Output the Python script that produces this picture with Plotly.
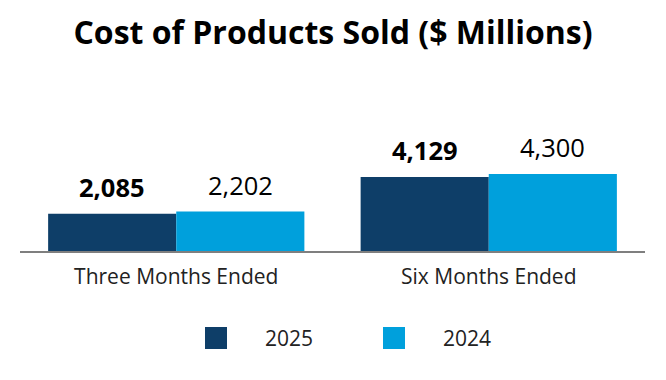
import plotly.graph_objects as go

categories = ["Three Months Ended", "Six Months Ended"]
series_names = ["2025", "2024"]
values_2025 = [2085, 4129]
values_2024 = [2202, 4300]
labels_2025 = ["2,085", "4,129"]
labels_2024 = ["2,202", "4,300"]
colors = ["#0e3e68", "#00a0dc"]

W, H = 666, 380
OFF = 8  # page body margin
ML, MR, MT, MB = 12, 29, 62, 137
BARGAP = 0.18
FONT = "Open Sans"

fig = go.Figure()
for name, vals, col in zip(series_names, [values_2025, values_2024], colors):
    fig.add_trace(go.Bar(x=categories, y=vals, name=name, marker=dict(color=col, line=dict(width=0)),
                         showlegend=False))

# data labels as annotations above the bars
annotations = []
half = (1 - BARGAP) / 2
offsets = [-half / 2, half / 2]
for si, (labels, vals, bold) in enumerate([(labels_2025, values_2025, True), (labels_2024, values_2024, False)]):
    for ci, (lab, v) in enumerate(zip(labels, vals)):
        annotations.append(dict(
            x=ci + offsets[si], y=v, xref="x", yref="y", text=f"<b>{lab}</b>" if bold else lab,
            showarrow=False, yanchor="bottom", yshift=8,
            font=dict(family=FONT, size=25.5, color="#000000")))

# custom legend (positions given in page pixels)
pw = W - ML - MR
ph = H - MT - MB
def px_to_paper_x(px):
    return (px - OFF - ML) / pw
def px_to_paper_y(py):
    return (H - MB - (py - OFF)) / ph

shapes = []
legend_items = [(205, 263), (383, 441)]
for (sx, tx), name, col in zip(legend_items, series_names, colors):
    shapes.append(dict(type="rect", xref="paper", yref="paper",
                       x0=px_to_paper_x(sx), x1=px_to_paper_x(sx + 22),
                       y0=px_to_paper_y(349), y1=px_to_paper_y(327),
                       fillcolor=col, line=dict(width=0)))
    annotations.append(dict(x=px_to_paper_x(tx), y=px_to_paper_y(338), xref="paper", yref="paper",
                            text=name, showarrow=False, xanchor="left", yanchor="middle",
                            font=dict(family=FONT, size=21, color="#222222")))

fig.update_layout(
    width=W, height=H,
    margin=dict(l=ML, r=MR, t=MT, b=MB),
    paper_bgcolor="white", plot_bgcolor="white",
    barmode="group", bargap=BARGAP, bargroupgap=0,
    title=dict(text="<b>Cost of Products Sold ($ Millions)</b>", x=(333 - OFF) / W, xanchor="center",
               y=1 - (33 - OFF) / H, yanchor="middle", font=dict(family=FONT, size=32, color="#000000")),
    xaxis=dict(showline=True, linecolor="#7f7f7f", linewidth=2, ticks="", showgrid=False,
               tickfont=dict(family=FONT, size=21, color="#222222"), ticklabelstandoff=6),
    yaxis=dict(range=[0, 10100], visible=False, showgrid=False, zeroline=False),
    annotations=annotations, shapes=shapes,
)

fig.write_html("out.html")
